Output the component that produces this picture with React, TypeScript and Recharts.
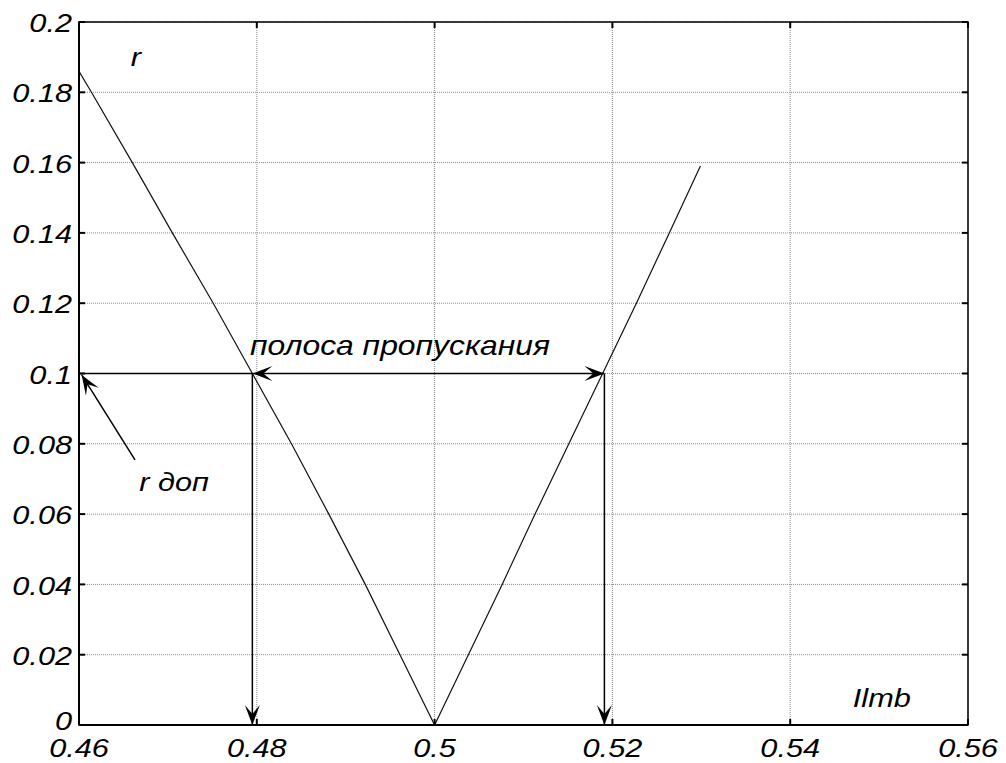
import React from "react";
import {
  CartesianGrid,
  Line,
  LineChart,
  ReferenceArea,
  ReferenceDot,
  ReferenceLine,
  XAxis,
  YAxis,
} from "recharts";

// Кривая r(Ilmb)
const ilmb = [
  0.46, 0.4614, 0.466, 0.4705, 0.4751, 0.4795, 0.4839, 0.4881, 0.4922, 0.4961, 0.5,
  0.5038, 0.5076, 0.5113, 0.5151, 0.5189, 0.5227, 0.5264, 0.5299,
];
const rValues = [
  0.186, 0.18, 0.16, 0.14, 0.12, 0.1, 0.08, 0.06, 0.04, 0.02, 0,
  0.02, 0.04, 0.06, 0.08, 0.1, 0.12, 0.14, 0.159,
];

const xTicks = [0.46, 0.48, 0.5, 0.52, 0.54, 0.56];
const yTicks = [0, 0.02, 0.04, 0.06, 0.08, 0.1, 0.12, 0.14, 0.16, 0.18, 0.2];

// Стрелки-аннотации: [x1, y1, x2, y2, наконечники]
const arrows: [number, number, number, number, "none" | "end" | "both"][] = [
  [0.46, 0.1, 0.4795, 0.1, "none"],
  [0.4795, 0.1, 0.5191, 0.1, "both"],
  [0.4795, 0.1, 0.4795, 0, "end"],
  [0.5191, 0.1, 0.5191, 0, "end"],
  [0.4663, 0.0754, 0.4603, 0.0996, "end"],
];

// Подписи: [x, y, текст, размер]
const labels: [number, number, string, number][] = [
  [0.4664, 0.19, "r", 26],
  [0.4961, 0.1081, "полоса пропускания", 27],
  [0.4707, 0.0691, "r доп", 26],
  [0.5503, 0.0077, "Ilmb", 26],
];

const data = ilmb.map((x, i) => ({ x, r: rValues[i] }));

const W = 1006;
const H = 763;
const PLOT_L = 79;
const PLOT_R = 968;
const PLOT_T = 22;
const PLOT_B = 725;
const SX = 1.18; // исходная картинка растянута по горизонтали
const FONT = "'Liberation Sans', Arial, sans-serif";

const fmt = (v: number) => String(parseFloat(v.toFixed(2)));

function StretchText({ x, y, text, size, anchor }: any) {
  return (
    <g transform={`translate(${x},${y}) scale(${SX},1)`}>
      <text
        x={0}
        y={0}
        textAnchor={anchor}
        dominantBaseline="central"
        fontSize={size}
        fontStyle="italic"
        fontFamily={FONT}
        fill="#000"
      >
        {text}
      </text>
    </g>
  );
}

function YTick({ y, payload }: any) {
  // у нуля подпись чуть выше, как в оригинале
  const dy = payload.value === 0 ? -4 : 1;
  return (
    <g>
      <line x1={PLOT_L} x2={PLOT_L + 6} y1={y} y2={y} stroke="#000" strokeWidth={2} />
      <line x1={PLOT_R - 6} x2={PLOT_R} y1={y} y2={y} stroke="#000" strokeWidth={2} />
      <StretchText x={72} y={y + dy} text={fmt(payload.value)} size={26} anchor="end" />
    </g>
  );
}

function XTick({ x, payload }: any) {
  return (
    <g>
      <line x1={x} x2={x} y1={PLOT_B} y2={PLOT_B - 6} stroke="#000" strokeWidth={2} />
      <line x1={x} x2={x} y1={PLOT_T} y2={PLOT_T + 6} stroke="#000" strokeWidth={2} />
      <StretchText x={x} y={PLOT_B + 23} text={fmt(payload.value)} size={26} anchor="middle" />
    </g>
  );
}

function head(tx: number, ty: number, fx: number, fy: number) {
  const len = Math.hypot(tx - fx, ty - fy) || 1;
  const ux = (tx - fx) / len;
  const uy = (ty - fy) / len;
  const px = -uy;
  const py = ux;
  const L = 20;
  const Wd = 7.5;
  const N = 11;
  const pts = [
    [tx, ty],
    [tx - ux * L + px * Wd, ty - uy * L + py * Wd],
    [tx - ux * N, ty - uy * N],
    [tx - ux * L - px * Wd, ty - uy * L - py * Wd],
  ];
  return <polygon points={pts.map((p) => p.join(",")).join(" ")} fill="#000" />;
}

function arrowShape(kind: "none" | "end" | "both") {
  return (p: any) => {
    const { x1, y1, x2, y2 } = p;
    return (
      <g>
        <line x1={x1} y1={y1} x2={x2} y2={y2} stroke="#000" strokeWidth={1.5} />
        {kind !== "none" && head(x2, y2, x1, y1)}
        {kind === "both" && head(x1, y1, x2, y2)}
      </g>
    );
  };
}

export default function App() {
  return (
    <div style={{ position: "absolute", left: 0, top: 0, width: W, height: H, background: "#fff" }}>
      <LineChart width={W} height={H} data={data} margin={{ top: PLOT_T, right: W - PLOT_R, left: 0, bottom: 0 }}>
        <CartesianGrid stroke="#8a8a8a" strokeDasharray="1 1" strokeWidth={1} />
        <XAxis
          dataKey="x"
          type="number"
          domain={[0.46, 0.56]}
          ticks={xTicks}
          interval={0}
          allowDataOverflow
          height={H - PLOT_B}
          tickLine={false}
          axisLine={{ stroke: "#000", strokeWidth: 2 }}
          tick={<XTick />}
        />
        <YAxis
          type="number"
          domain={[0, 0.2]}
          ticks={yTicks}
          interval={0}
          allowDataOverflow
          width={PLOT_L}
          tickLine={false}
          axisLine={{ stroke: "#000", strokeWidth: 2 }}
          tick={<YTick />}
        />
        <ReferenceArea
          x1={0.46}
          x2={0.56}
          y1={0}
          y2={0.2}
          fill="none"
          stroke="#000"
          strokeWidth={1.5}
          ifOverflow="visible"
        />
        <Line
          type="linear"
          dataKey="r"
          stroke="#111"
          strokeWidth={1.2}
          dot={false}
          isAnimationActive={false}
        />
        {arrows.map(([x1, y1, x2, y2, kind], i) => (
          <ReferenceLine
            key={`a${i}`}
            segment={[
              { x: x1, y: y1 },
              { x: x2, y: y2 },
            ]}
            ifOverflow="visible"
            shape={arrowShape(kind)}
          />
        ))}
        {labels.map(([x, y, text, size], i) => (
          <ReferenceDot
            key={`l${i}`}
            x={x}
            y={y}
            r={0}
            ifOverflow="visible"
            shape={(p: any) => <StretchText x={p.cx} y={p.cy} text={text} size={size} anchor="middle" />}
          />
        ))}
      </LineChart>
    </div>
  );
}
